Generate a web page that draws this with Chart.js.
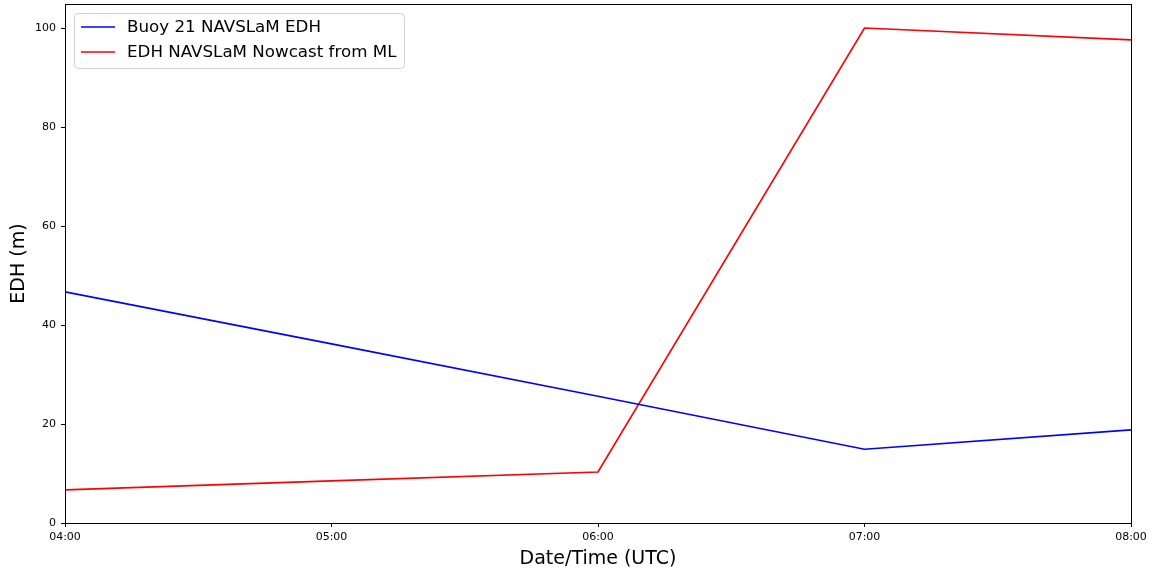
<!DOCTYPE html>
<html>
<head>
<meta charset="utf-8">
<script src="https://cdn.jsdelivr.net/npm/chart.js@4/dist/chart.umd.min.js"></script>
<style>
  html, body { margin: 0; padding: 0; background: #fff; }
  #wrap { width: 1153px; height: 573px; }
</style>
</head>
<body>
<div id="wrap"><canvas id="edhChart" width="1153" height="573"></canvas></div>
<script>
// hours after 04:00 UTC
const hours = [0, 1, 2, 3, 4];
const hourLabels = ['04:00', '05:00', '06:00', '07:00', '08:00'];
const buoyEdh = [46.7, 36.2, 25.6, 14.9, 18.8];
const nowcastEdh = [6.7, 8.5, 10.3, 100.0, 97.6];
const yTicks = [0, 20, 40, 60, 80, 100];
const seriesNames = ['Buoy 21 NAVSLaM EDH', 'EDH NAVSLaM Nowcast from ML'];
const seriesColors = ['#0000ff', '#ff0000'];

const FONT = "'DejaVu Sans', sans-serif";

// frame round the plot area (matplotlib style spines)
const framePlugin = {
    id: 'frame',
    afterDraw(chart) {
        const a = chart.chartArea, c = chart.ctx;
        c.save();
        c.strokeStyle = '#000';
        c.lineWidth = 1;
        c.strokeRect(Math.round(a.left) + 0.5, Math.round(a.top) + 0.5,
            Math.round(a.right - a.left), Math.round(a.bottom - a.top));
        c.restore();
    }
};

// legend box in the upper left of the plot area
const legendPlugin = {
    id: 'innerLegend',
    afterDraw(chart) {
        const a = chart.chartArea, c = chart.ctx;
        const x = a.left + 9, y = a.top + 9, w = 330, h = 55;
        c.save();
        c.beginPath();
        c.roundRect(x + 0.5, y + 0.5, w, h, 4);
        c.fillStyle = 'rgba(255,255,255,0.8)';
        c.fill();
        c.strokeStyle = '#d0d0d0';
        c.lineWidth = 1;
        c.stroke();
        c.font = '16.7px ' + FONT;
        c.textBaseline = 'middle';
        seriesNames.forEach((name, i) => {
            const ly = y + 14 + i * 25;
            c.strokeStyle = seriesColors[i];
            c.lineWidth = 1.7;
            c.beginPath();
            c.moveTo(x + 7, ly);
            c.lineTo(x + 41, ly);
            c.stroke();
            c.fillStyle = '#000';
            c.fillText(name, x + 53, ly + 1);
        });
        c.restore();
    }
};

const ctx = document.getElementById('edhChart').getContext('2d');

const edhChart = new Chart(ctx, {
    type: 'line',
    data: {
        datasets: [
            {
                label: seriesNames[0],
                data: hours.map((h, i) => ({ x: h, y: buoyEdh[i] })),
                borderColor: seriesColors[0],
                borderWidth: 1.7,
                pointRadius: 0,
                tension: 0
            },
            {
                label: seriesNames[1],
                data: hours.map((h, i) => ({ x: h, y: nowcastEdh[i] })),
                borderColor: seriesColors[1],
                borderWidth: 1.7,
                pointRadius: 0,
                tension: 0
            }
        ]
    },
    options: {
        responsive: false,
        animation: false,
        layout: { padding: { top: 4, right: 22, left: 0, bottom: 0 } },
        plugins: {
            legend: { display: false },
            tooltip: { enabled: false }
        },
        scales: {
            x: {
                type: 'linear',
                min: 0,
                max: 4,
                afterFit(scale) {
                    scale.height = 50;
                    scale.paddingLeft = 0;
                    scale.paddingRight = 0;
                },
                afterBuildTicks(scale) {
                    scale.ticks = hours.map(v => ({ value: v }));
                },
                grid: { drawOnChartArea: false, tickLength: 4, color: '#000' },
                border: { display: false },
                ticks: {
                    color: '#000',
                    font: { family: FONT, size: 11 },
                    padding: 4,
                    maxRotation: 0,
                    callback: (v) => hourLabels[hours.indexOf(v)]
                },
                title: {
                    display: true,
                    text: 'Date/Time (UTC)',
                    color: '#000',
                    font: { family: FONT, size: 19 },
                    padding: { top: 0, bottom: 3 }
                }
            },
            y: {
                type: 'linear',
                min: 0,
                max: 104.85,
                afterFit(scale) {
                    scale.width = 65;
                    scale.paddingTop = 0;
                    scale.paddingBottom = 0;
                },
                afterBuildTicks(scale) {
                    scale.ticks = yTicks.map(v => ({ value: v }));
                },
                grid: { drawOnChartArea: false, tickLength: 4, color: '#000' },
                border: { display: false },
                ticks: {
                    color: '#000',
                    font: { family: FONT, size: 11 },
                    padding: 5
                },
                title: {
                    display: true,
                    text: 'EDH (m)',
                    color: '#000',
                    font: { family: FONT, size: 19 },
                    padding: { top: 8, bottom: 0 }
                }
            }
        }
    },
    plugins: [framePlugin, legendPlugin]
});
</script>
</body>
</html>
